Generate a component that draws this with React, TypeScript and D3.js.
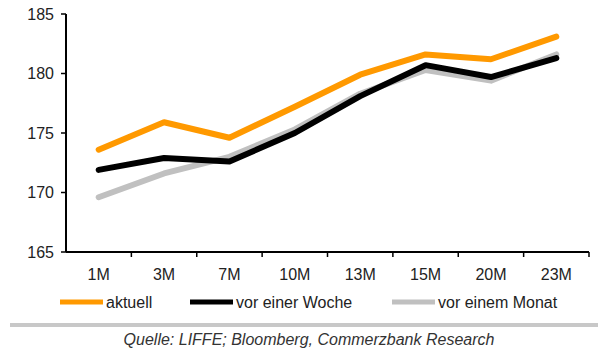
import React from "react";
import * as d3 from "d3";

const categories = ["1M", "3M", "7M", "10M", "13M", "15M", "20M", "23M"];
const aktuell = [173.6, 175.9, 174.6, 177.2, 179.9, 181.6, 181.2, 183.1];
const vorEinerWoche = [171.9, 172.9, 172.6, 175.0, 178.1, 180.7, 179.7, 181.3];
const vorEinemMonat = [169.6, 171.6, 173.0, 175.3, 178.3, 180.3, 179.4, 181.6];
const yTicks = [165, 170, 175, 180, 185];
const seriesNames = ["aktuell", "vor einer Woche", "vor einem Monat"];
const colors = ["#FF9900", "#000000", "#C0C0C0"];

const W = 598;
const H = 354;
const left = 66;
const right = 589;
const top = 14;
const bottom = 252;

export default function App() {
  const x = d3.scaleBand<string>().domain(categories).range([left, right]).padding(0);
  const y = d3.scaleLinear().domain([165, 185]).range([bottom, top]);
  const line = d3
    .line<number>()
    .x((_, i) => (x(categories[i]) as number) + x.bandwidth() / 2)
    .y((d) => y(d));
  const series = [vorEinemMonat, vorEinerWoche, aktuell];
  const seriesColors = [colors[2], colors[1], colors[0]];
  const font = "Arial, 'Liberation Sans', sans-serif";
  const legendX = [60, 190, 392];

  return (
    <svg
      width={W}
      height={H}
      style={{ position: "absolute", left: 0, top: 0, background: "#fff" }}
      fontFamily={font}
    >
      {series.map((s, i) => (
        <path
          key={i}
          d={line(s) as string}
          fill="none"
          stroke={seriesColors[i]}
          strokeWidth={6}
          strokeLinejoin="round"
          strokeLinecap="round"
        />
      ))}
      {/* y axis */}
      <line x1={left} x2={left} y1={top} y2={bottom} stroke="#000" strokeWidth={2} />
      {yTicks.map((t) => (
        <g key={t}>
          <line x1={left - 5} x2={left} y1={y(t)} y2={y(t)} stroke="#000" strokeWidth={1.5} />
          <text x={left - 12} y={y(t)} dy="0.36em" textAnchor="end" fontSize={16} fill="#222">
            {t}
          </text>
        </g>
      ))}
      {/* x axis */}
      <line x1={left} x2={right} y1={bottom} y2={bottom} stroke="#000" strokeWidth={2} />
      {categories.map((c) => (
        <g key={c}>
          <line
            x1={(x(c) as number) + x.bandwidth()}
            x2={(x(c) as number) + x.bandwidth()}
            y1={bottom}
            y2={bottom + 5}
            stroke="#000"
            strokeWidth={1.5}
          />
          <text
            x={(x(c) as number) + x.bandwidth() / 2}
            y={bottom + 28}
            textAnchor="middle"
            fontSize={16}
            fill="#222"
          >
            {c}
          </text>
        </g>
      ))}
      {/* legend */}
      {seriesNames.map((n, i) => (
        <g key={n}>
          <line
            x1={legendX[i]}
            x2={legendX[i] + 43}
            y1={302}
            y2={302}
            stroke={colors[i]}
            strokeWidth={5}
          />
          <text x={legendX[i] + 46} y={302} dy="0.36em" fontSize={16} fill="#222">
            {n}
          </text>
        </g>
      ))}
      <line x1={10} x2={598} y1={325} y2={325} stroke="#C8C8C8" strokeWidth={4} />
      <text x={309} y={345} textAnchor="middle" fontSize={16} fontStyle="italic" fill="#333">
        Quelle: LIFFE; Bloomberg, Commerzbank Research
      </text>
    </svg>
  );
}
